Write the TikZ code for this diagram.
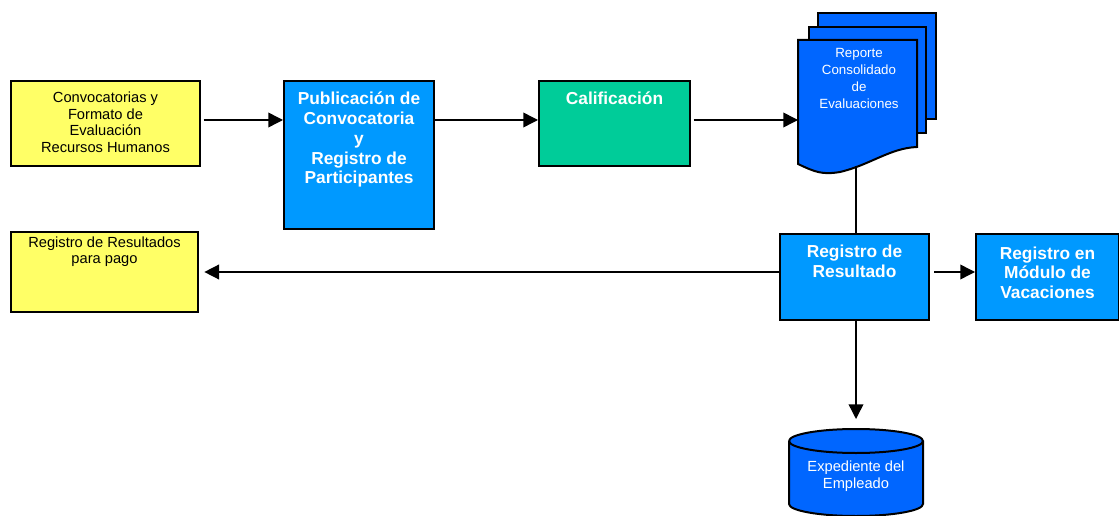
\documentclass[tikz,border=0pt]{standalone}
\usepackage{fontspec}
\setmainfont{Liberation Sans}
\usetikzlibrary{positioning, fit, calc, arrows.meta}

\definecolor{pale}{HTML}{FFFF66}
\definecolor{sky}{HTML}{0099FF}
\definecolor{mint}{HTML}{00CC99}
\definecolor{royal}{HTML}{0066FF}

\tikzset{
  box/.style={draw=black, line width=1.5pt, inner sep=0pt},
  notebox/.style={box, fill=pale},
  stepbox/.style={box, fill=sky},
  gradebox/.style={box, fill=mint},
  plaintxt/.style={anchor=north, align=center, inner sep=0pt, font=\fontsize{11}{12.3}\selectfont},
  boldtxt/.style={anchor=north, align=center, inner sep=0pt, text=white, font=\fontsize{13}{14.8}\selectfont\bfseries},
  flow/.style={line width=1.1pt, -{Triangle[length=11pt, width=11pt]}},
}

\begin{document}
\begin{tikzpicture}[x=0.75pt, y=-0.75pt]
\useasboundingbox (0,0) rectangle (1119,516);

\node (conv) [notebox, fit={(11,81) (200,166)},
  label={[plaintxt, yshift=-9pt]north:{Convocatorias y\\Formato de\\Evaluación\\Recursos Humanos}}] {};
\node (publ) [stepbox, fit={(284,81) (434,229)},
  label={[boldtxt, yshift=-9pt]north:{Publicación de\\Convocatoria\\y\\Registro de\\Participantes}}] {};
\node (calif) [gradebox, fit={(539,81) (690,166)},
  label={[boldtxt, yshift=-8.5pt]north:{Calificación}}] {};
\node (pago) [notebox, fit={(11,232) (198,312)},
  label={[plaintxt, yshift=-4pt]north:{Registro de Resultados\\para pago}}] {};
\node (resul) [stepbox, fit={(780,234) (929,320)},
  label={[boldtxt, yshift=-9pt]north:{Registro de\\Resultado}}] {};
\node (vacac) [stepbox, fit={(976,234) (1119,320)},
  label={[boldtxt, yshift=-10pt]north:{Registro en\\Módulo de\\Vacaciones}}] {};

% reporte (stacked pages)
\draw [box, fill=royal] (818,13) rectangle (936,119);
\draw [box, fill=royal] (809,27) rectangle (926,133);
\draw [box, fill=royal] (798,164) -- (798,40) -- (917,40) -- (917,147)
  .. controls (890,148) and (870,165) .. (840,172)
  .. controls (822,175) and (815,172) .. cycle;
\coordinate (repin) at (798,120);
\coordinate (repout) at (856,166);
\node (rep) [plaintxt, text=white, font=\fontsize{10}{12.75}\selectfont] at (859,48)
  {Reporte\\Consolidado\\de\\Evaluaciones};

% expediente
\draw [box, fill=royal] (789,441) -- (789,504) arc[start angle=180, end angle=0, x radius=67, y radius=12]
  -- (923,441) arc[start angle=0, end angle=-180, x radius=67, y radius=12];
\draw [box] (789,441) arc[start angle=180, end angle=0, x radius=67, y radius=12];
\coordinate (exptop) at (856,429);
\node (exp) [plaintxt, text=white] at (856,461) {Expediente del\\Empleado};

\coordinate (row) at (0,120);
\draw [flow] ($(conv.east |- row) + (2pt,0)$) -- (publ.west |- row);
\draw [flow] (publ.east |- row) -- (calif.west |- row);
\draw [flow] ($(calif.east |- row) + (2pt,0)$) -- (repin);
\draw [line width=1.1pt] (repout) -- (resul.north -| repout);
\draw [flow] (resul.west |- 0,272) -- ($(pago.east |- 0,272) + (4pt,0)$);
\draw [flow] ($(resul.east |- 0,272) + (3pt,0)$) -- (vacac.west |- 0,272);
\draw [flow] (resul.south -| exptop) -- ($(exptop) + (0,-10)$);

\end{tikzpicture}
\end{document}
